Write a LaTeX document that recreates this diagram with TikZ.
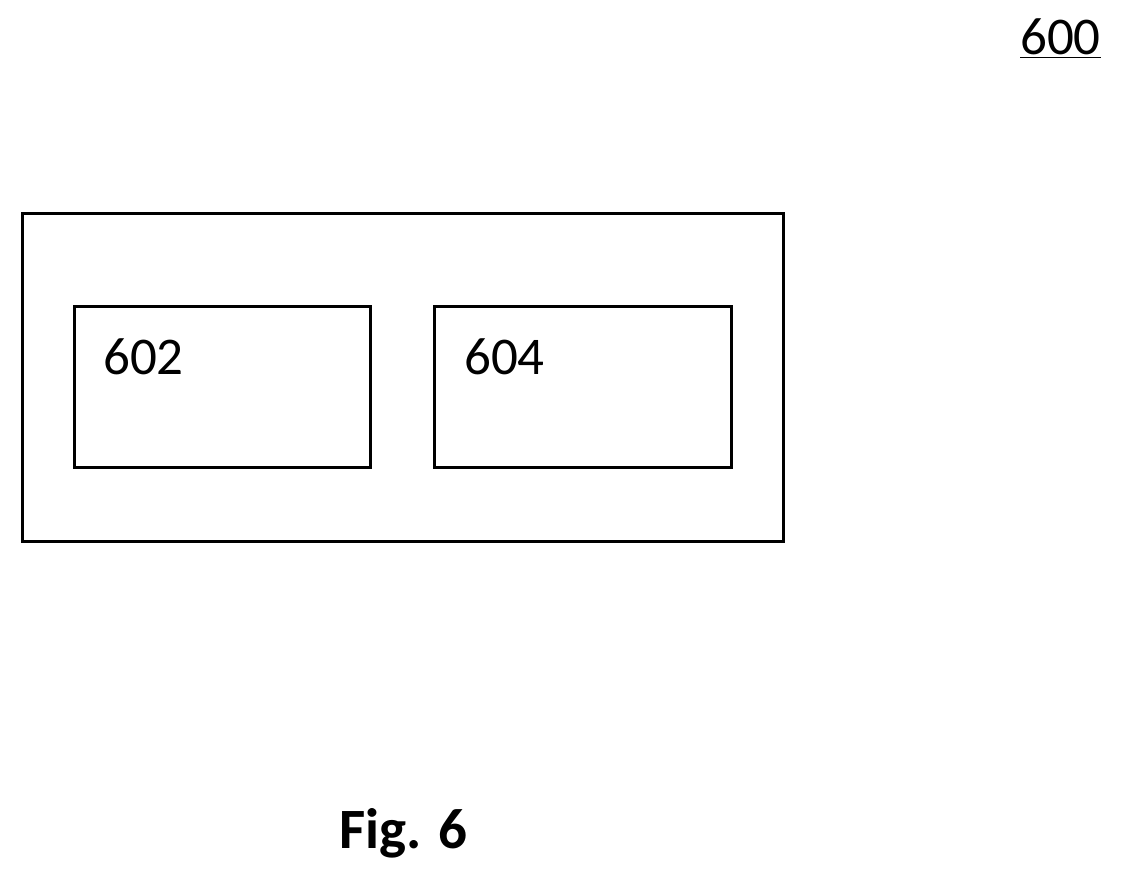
\documentclass[tikz,border=0pt]{standalone}
\usepackage{fontspec}
\setmainfont{Carlito}
\begin{document}
\begin{tikzpicture}[x=1pt,y=-1pt,
  box/.style={draw=black,line width=3pt,inner sep=0pt},
  lbl/.style={anchor=base west,inner sep=0pt,font=\fontsize{53}{60}\selectfont}]
\useasboundingbox (0,0) rectangle (1124,880);
\draw[box] (22,213) rectangle (783,541);
\node[box,minimum width=296pt,minimum height=161pt,anchor=north west] (b602) at (73,305) {};
\node[box,minimum width=297pt,minimum height=161pt,anchor=north west] (b604) at (433,305) {};
\node[lbl] (t602) at (103,374) {602};
\node[lbl] (t604) at (464,374) {604};
\node[lbl] (t600) at (1020,55) {\underline{600}};
\node[lbl,font=\fontsize{57}{64}\selectfont\bfseries] (fig) at (339,848) {Fig. 6};
\end{tikzpicture}
\end{document}
